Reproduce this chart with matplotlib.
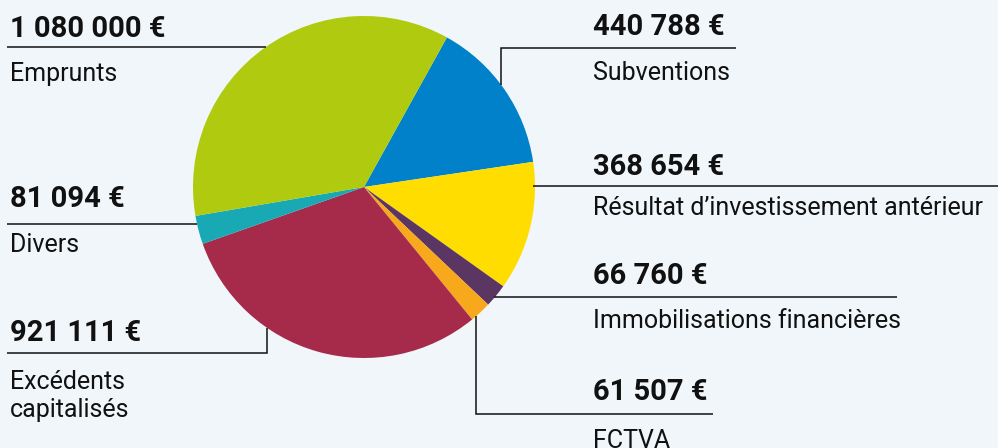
import matplotlib
matplotlib.use("Agg")
import matplotlib.pyplot as plt

# ---- data ----
categories = ["Subventions", "Résultat d’investissement antérieur", "Immobilisations financières",
              "FCTVA", "Excédents\ncapitalisés", "Divers", "Emprunts"]
values = [440788, 368654, 66760, 61507, 921111, 81094, 1080000]
value_labels = ["440 788 €", "368 654 €", "66 760 €", "61 507 €", "921 111 €", "81 094 €", "1 080 000 €"]
colors = ["#0081C9", "#FFDD00", "#5C3663", "#F7A81B", "#A62B4A", "#18A9B5", "#AFCA0F"]

W, H = 998, 448
BG = "#F0F6FA"

fig = plt.figure(figsize=(W / 100, H / 100), dpi=100, facecolor=BG)
ax = fig.add_axes([0, 0, 1, 1])
ax.set_facecolor(BG)

def Y(p):
    return H - p

cx, cy, r = 364, 187, 171
ax.pie(values, colors=colors, startangle=61, counterclock=False,
       center=(cx, Y(cy)), radius=r, frame=True,
       wedgeprops=dict(linewidth=0))
ax.set_xlim(0, W)
ax.set_ylim(0, H)
ax.axis("off")

lw = 1.1
leaders = {
    "Emprunts": [(7, 47), (266, 47)],
    "Subventions": [(501, 85), (501, 48), (736, 48)],
    "Résultat d’investissement antérieur": [(533, 186), (998, 186)],
    "Immobilisations financières": [(494, 297), (897, 297)],
    "FCTVA": [(476, 316), (476, 414), (713, 414)],
    "Divers": [(7, 224), (197, 224)],
    "Excédents\ncapitalisés": [(267, 328), (267, 353), (7, 353)],
}
# (x, value baseline, label first-line baseline)
text_pos = {
    "Emprunts": (10, 37, 81),
    "Subventions": (593, 35, 80),
    "Résultat d’investissement antérieur": (593, 175, 215),
    "Immobilisations financières": (593, 284, 328),
    "FCTVA": (593, 400, 448),
    "Divers": (10, 207, 252),
    "Excédents\ncapitalisés": (10, 341, 389),
}
line_step = 28

for cat, vl in zip(categories, value_labels):
    pts = leaders[cat]
    ax.plot([p[0] for p in pts], [Y(p[1]) for p in pts], color="#111111",
            lw=lw, solid_capstyle="butt", solid_joinstyle="miter")
    x, yv, yl = text_pos[cat]
    ax.text(x, Y(yv), vl, fontsize=21, fontweight="bold", family="Roboto",
            color="#111111", va="baseline", ha="left")
    for i, line in enumerate(cat.split("\n")):
        ax.text(x, Y(yl + i * line_step), line, fontsize=18, fontweight="normal",
                family="Roboto", color="#111111", va="baseline", ha="left")

fig.savefig("out.png", dpi=100, facecolor=BG)
